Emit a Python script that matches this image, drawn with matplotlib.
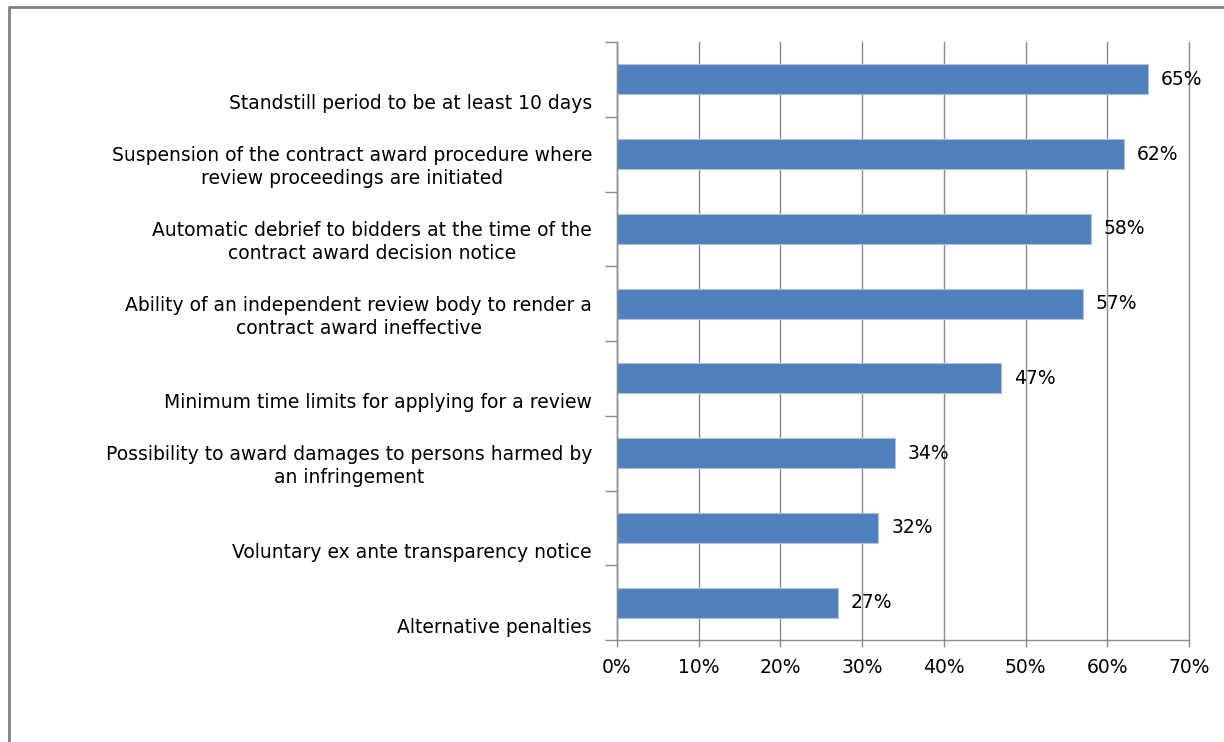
import matplotlib
matplotlib.use("Agg")
import matplotlib.pyplot as plt
import matplotlib.transforms as mtransforms
from matplotlib.lines import Line2D
import numpy as np

plt.rcParams["font.family"] = ["DejaVu Sans"]

# Chart data (top to bottom)
categories = [
    "Standstill period to be at least 10 days",
    "Suspension of the contract award procedure where\nreview proceedings are initiated",
    "Automatic debrief to bidders at the time of the\ncontract award decision notice",
    "Ability of an independent review body to render a\ncontract award ineffective",
    "Minimum time limits for applying for a review",
    "Possibility to award damages to persons harmed by\nan infringement",
    "Voluntary ex ante transparency notice",
    "Alternative penalties",
]
values = [65, 62, 58, 57, 47, 34, 32, 27]
x_ticks = [0, 10, 20, 30, 40, 50, 60, 70]

bar_color = "#4F81BD"
grid_color = "#8c8c8c"
font_size = 13.5

fig = plt.figure(figsize=(12.24, 7.42), dpi=100)
ax = fig.add_axes([617 / 1224, 102 / 742, 572 / 1224, 598 / 742])

y = np.arange(len(categories))
ax.barh(y, values, height=0.4, color=bar_color, edgecolor="#a9c0de", linewidth=0.8, zorder=3)

ax.set_xlim(0, 70)
ax.set_ylim(len(categories) - 0.5, -0.5)

# Excel style ticks: y ticks on category boundaries, no labels
ax.set_yticks(np.arange(-0.5, len(categories), 1.0))
ax.set_yticklabels([])
ax.tick_params(axis="y", length=9, width=1, color=grid_color, direction="out")
ax.set_xticks(x_ticks)
ax.set_xticklabels([f"{t}%" for t in x_ticks], fontsize=font_size)
ax.tick_params(axis="x", length=5, width=1, color=grid_color, direction="out", pad=8)

ax.grid(axis="x", color=grid_color, linewidth=1, zorder=0)
for gl in ax.get_xgridlines():
    gl.set_clip_on(False)
for side in ["top", "right"]:
    ax.spines[side].set_visible(False)
for side in ["left", "bottom"]:
    ax.spines[side].set_color(grid_color)
    ax.spines[side].set_linewidth(1)
    ax.spines[side].set_zorder(4)

# Category labels, bottom aligned like the original
label_tr = mtransforms.offset_copy(ax.get_yaxis_transform(), fig=fig, x=-25, y=-34, units="dots")
for yi, cat in zip(y, categories):
    ax.text(0, yi, cat, transform=label_tr, ha="right", va="bottom",
            multialignment="center", fontsize=font_size, linespacing=1.27)

# Value labels
val_tr = mtransforms.offset_copy(ax.transData, fig=fig, x=13, y=0, units="dots")
for yi, v in zip(y, values):
    ax.text(v, yi, f"{v}%", transform=val_tr, ha="left", va="center", fontsize=font_size)

# Frame of the chart area (top and left edges visible)
fig.add_artist(Line2D([9 / 1224, 9 / 1224, 1.0], [0.0, 1 - 7 / 742, 1 - 7 / 742],
                      transform=fig.transFigure, color="#808080", linewidth=2))

fig.savefig("out.png", dpi=100)
